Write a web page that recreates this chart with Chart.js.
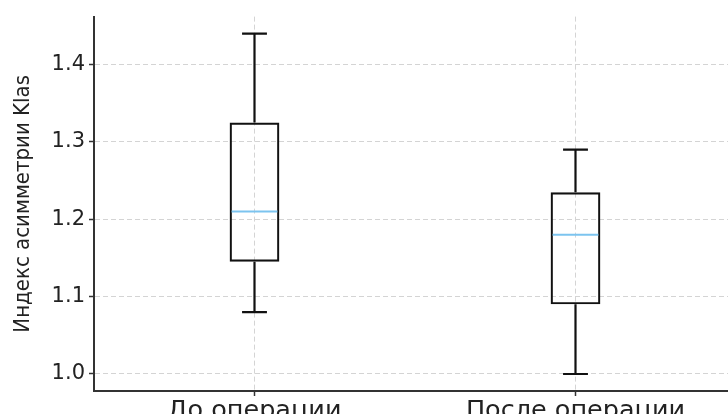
<!DOCTYPE html>
<html>
<head>
<meta charset="utf-8">
<script src="https://cdn.jsdelivr.net/npm/chart.js@4"></script>
<style>
    html, body { margin: 0; padding: 0; overflow: hidden; background: #fff; }
</style>
</head>
<body>
<canvas id="boxChart" width="736" height="414"></canvas>
<script>
// Box plot data
const categories = ['До операции', 'После операции'];
const whiskerLow = [1.08, 1.00];
const q1 = [1.145, 1.09];
const median = [1.21, 1.18];
const q3 = [1.325, 1.235];
const whiskerHigh = [1.44, 1.29];
const yTicks = [1.0, 1.1, 1.2, 1.3, 1.4];

const medianColor = '#7cc4ef';
const gridColor = '#d4d4d4';
const axisColor = '#333';

// Draw whiskers, caps and median lines on top of the boxes
const whiskerPlugin = {
    id: 'whiskers',
    afterDatasetsDraw(chart) {
        const { ctx, scales: { x, y } } = chart;
        const meta = chart.getDatasetMeta(0);
        ctx.save();
        meta.data.forEach((bar, i) => {
            const cx = x.getPixelForValue(i);
            const half = bar.width / 2;
            const capHalf = half / 2;
            const yHi = y.getPixelForValue(whiskerHigh[i]);
            const yLo = y.getPixelForValue(whiskerLow[i]);

            ctx.strokeStyle = '#111';
            ctx.lineWidth = 2.2;
            ctx.beginPath();
            ctx.moveTo(cx, y.getPixelForValue(q3[i]));
            ctx.lineTo(cx, yHi);
            ctx.moveTo(cx, y.getPixelForValue(q1[i]));
            ctx.lineTo(cx, yLo);
            ctx.moveTo(cx - capHalf, yHi);
            ctx.lineTo(cx + capHalf, yHi);
            ctx.moveTo(cx - capHalf, yLo);
            ctx.lineTo(cx + capHalf, yLo);
            ctx.stroke();

            const yMed = y.getPixelForValue(median[i]);
            ctx.strokeStyle = medianColor;
            ctx.lineWidth = 2;
            ctx.beginPath();
            ctx.moveTo(cx - half + 2, yMed);
            ctx.lineTo(cx + half - 2, yMed);
            ctx.stroke();
        });
        ctx.restore();
    }
};

const ctx = document.getElementById('boxChart');
new Chart(ctx, {
    type: 'bar',
    data: {
        labels: categories,
        datasets: [{
            data: categories.map((c, i) => [q1[i], q3[i]]),
            backgroundColor: 'rgba(255, 255, 255, 0)',
            borderColor: '#111',
            borderWidth: 2.2,
            borderSkipped: false,
            barPercentage: 0.155,
            categoryPercentage: 1
        }]
    },
    options: {
        responsive: false,
        animation: false,
        layout: { padding: { top: 14, left: 0, right: 0, bottom: 0 } },
        plugins: {
            legend: { display: false },
            tooltip: { enabled: false }
        },
        scales: {
            x: {
                offset: true,
                grid: {
                    offset: false,
                    color: gridColor,
                    lineWidth: 1,
                    tickLength: 5,
                    tickColor: axisColor,
                    tickWidth: 1.5
                },
                border: { display: true, color: axisColor, width: 2, dash: [5, 3] },
                ticks: {
                    color: '#222',
                    font: { family: 'DejaVu Sans', size: 25.5 },
                    padding: 0,
                    maxRotation: 0,
                    autoSkip: false
                },
                afterFit(scale) { scale.height = 23; }
            },
            y: {
                min: 0.978,
                max: 1.462,
                afterBuildTicks(scale) {
                    scale.ticks = yTicks.map(v => ({ value: v }));
                },
                grid: {
                    color: gridColor,
                    lineWidth: 1,
                    tickLength: 5,
                    tickColor: axisColor,
                    tickWidth: 1.5
                },
                border: { display: true, color: axisColor, width: 2, dash: [5, 3] },
                ticks: {
                    color: '#222',
                    font: { family: 'DejaVu Sans', size: 21 },
                    padding: 4,
                    callback: v => v.toFixed(1)
                },
                title: {
                    display: true,
                    text: 'Индекс асимметрии Klas',
                    color: '#222',
                    font: { family: "'Liberation Sans Narrow', 'DejaVu Sans Condensed', 'Liberation Sans'", size: 22 },
                    padding: { top: 10, bottom: 0 }
                },
                afterFit(scale) { scale.width = 94; }
            }
        }
    },
    plugins: [whiskerPlugin]
});
</script>
</body>
</html>
